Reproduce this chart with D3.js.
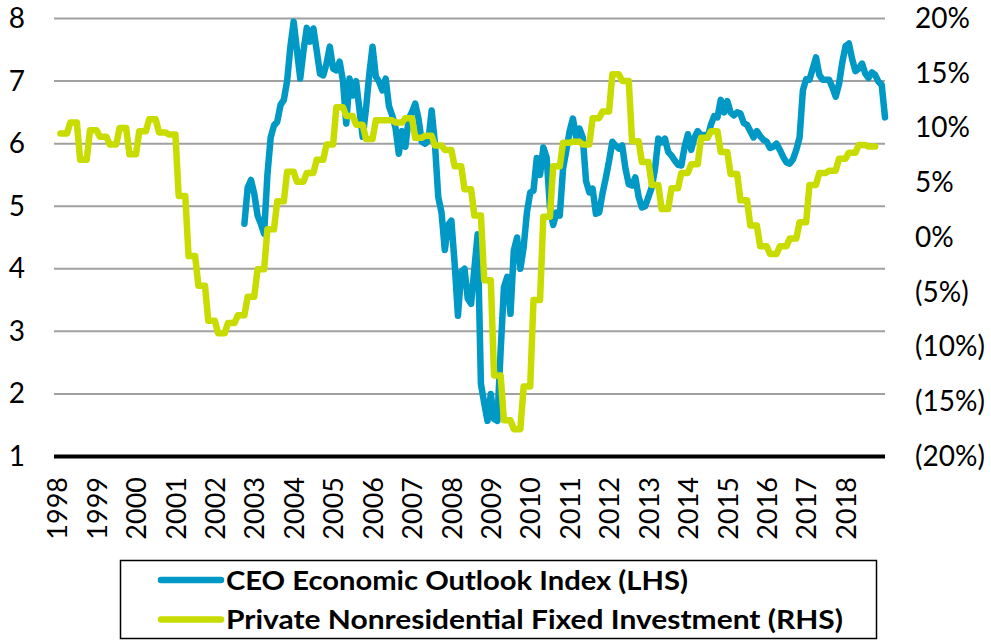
<!DOCTYPE html>
<html>
<head>
<meta charset="utf-8">
<script src="https://cdn.jsdelivr.net/npm/d3@7"></script>
<style>
  body { margin: 0; background: #fff; }
  text { font-family: Lato, "Open Sans", sans-serif; fill: #000; }
</style>
</head>
<body>
<svg id="chart" width="991" height="641"></svg>
<script>
// year labels along the bottom
const years = d3.range(1998, 2019);
const leftTicks = [1, 2, 3, 4, 5, 6, 7, 8];
const rightTicks = [20, 15, 10, 5, 0, -5, -10, -15, -20];

// CEO Economic Outlook Index, monthly from Oct 2002
const ceoStart = 2002 + 9 / 12;
const ceoIndex = [
  4.72, 5.3, 5.42, 5.2, 4.85, 4.72, 4.56, 5.5, 6.1, 6.29,
  6.35, 6.62, 6.7, 7.0, 7.55, 7.95, 7.49, 7.04, 7.49, 7.85,
  7.63, 7.84, 7.49, 7.12, 7.09, 7.28, 7.55, 7.2, 7.17, 7.31,
  7.0, 6.32, 7.04, 6.77, 7.0, 6.55, 6.11, 6.55, 7.1, 7.55,
  7.07, 6.99, 6.85, 7.04, 6.6, 6.45, 6.25, 5.84, 6.2, 5.95,
  6.4, 6.5, 6.64, 6.4, 6.03, 6.0, 6.05, 6.53, 6.0, 5.15,
  4.9, 4.3, 4.7, 4.77, 4.08, 3.25, 3.95, 4.0, 3.52, 3.44,
  4.0, 4.55, 2.16, 1.85, 1.57, 2.0, 1.6, 1.57, 2.69, 3.7,
  3.87, 3.28, 4.29, 4.5, 4.0, 4.34, 4.9, 5.22, 5.25, 5.77,
  5.5, 5.94, 5.78, 4.98, 4.7, 4.9, 4.85, 5.6, 5.89, 6.2,
  6.4, 6.1, 6.24, 6.1, 5.4, 5.22, 5.28, 4.88, 4.9, 5.2,
  5.45, 5.72, 6.03, 5.97, 5.92, 5.97, 5.6, 5.35, 5.33, 5.46,
  5.15, 4.98, 5.0, 5.15, 5.3, 5.6, 6.08, 6.02, 6.08, 5.87,
  5.81, 5.73, 5.66, 5.65, 5.95, 6.15, 5.9, 6.1, 6.2, 6.13,
  6.14, 6.1, 6.3, 6.44, 6.42, 6.7, 6.5, 6.68, 6.5, 6.45,
  6.5, 6.48, 6.33, 6.3, 6.2, 6.1, 6.2, 6.12, 6.06, 6.03,
  5.93, 5.95, 6.0, 5.9, 5.79, 5.7, 5.68, 5.75, 5.9, 6.1,
  6.85, 7.03, 7.02, 7.2, 7.38, 7.1, 7.02, 7.02, 7.02, 6.9,
  6.75, 6.95, 7.3, 7.56, 7.6, 7.35, 7.16, 7.2, 7.28, 7.12,
  7.05, 7.14, 7.1, 6.99, 6.94, 6.42
];

// Private nonresidential fixed investment, y/y %, quarterly from 1998 Q1
const investStart = 1998;
const investment = [
  9.5, 10.5, 7.1, 9.8,
  9.2, 8.5, 10.0, 7.6,
  9.7, 10.8, 9.6, 9.4,
  3.8, -1.7, -4.4, -7.6,
  -8.75, -7.8, -7.1, -5.4,
  -2.9, 0.75, 3.3, 6.0,
  5.1, 5.9, 7.1, 8.5,
  11.9, 11.1, 10.3, 9.0,
  10.7, 10.7, 10.5, 10.9,
  9.1, 9.3, 8.4, 8.0,
  6.5, 4.4, 2.0, -3.9,
  -12.6, -16.7, -17.5, -13.6,
  -5.7, 1.9, 6.5, 8.65,
  8.75, 8.5, 10.9, 11.5,
  14.9, 14.3, 8.8, 6.9,
  4.8, 2.6, 4.5, 5.9,
  6.7, 9.1, 9.7, 7.8,
  5.8, 3.4, 1.1, -0.8,
  -1.5, -0.8, -0.1, 1.4,
  4.8, 5.9, 6.1, 7.2,
  7.75, 8.45, 8.3
];

const seriesNames = [
  "CEO Economic Outlook Index (LHS)",
  "Private Nonresidential Fixed Investment (RHS)"
];
const colors = ["#0098c4", "#c8dc00"];
const legendWidths = [462, 617];

const svg = d3.select("#chart");

const x = d3.scaleLinear().domain([1997.92, 2019.0]).range([54, 885]);
const yLeft = d3.scaleLinear().domain([1, 8]).range([456.5, 18.5]);
const yRight = d3.scaleLinear().domain([-20, 20]).range([456.5, 18.5]);

// gridlines
svg.append("g")
  .selectAll("line")
  .data(leftTicks.filter(d => d > 1))
  .join("line")
  .attr("x1", x.range()[0])
  .attr("x2", x.range()[1])
  .attr("y1", d => yLeft(d))
  .attr("y2", d => yLeft(d))
  .attr("stroke", "#a0a0a0")
  .attr("stroke-width", 2);

// category axis line
svg.append("line")
  .attr("x1", x.range()[0])
  .attr("x2", x.range()[1])
  .attr("y1", yLeft(1))
  .attr("y2", yLeft(1))
  .attr("stroke", "#000")
  .attr("stroke-width", 4);

// left axis
const leftAxis = d3.axisLeft(yLeft).tickValues(leftTicks).tickFormat(d3.format("d"))
  .tickSize(0).tickPadding(0);
const gl = svg.append("g").attr("transform", "translate(25,0)").call(leftAxis);
gl.select(".domain").remove();
gl.selectAll("text").attr("font-size", 28).attr("font-family", "Lato, sans-serif");

// right axis
const fmtPct = d => d < 0 ? "(" + Math.abs(d) + "%)" : d + "%";
const rightAxis = d3.axisRight(yRight).tickValues(rightTicks).tickFormat(fmtPct)
  .tickSize(0).tickPadding(0);
const gr = svg.append("g").attr("transform", "translate(915,0)").call(rightAxis);
gr.select(".domain").remove();
gr.selectAll("text").attr("font-size", 28).attr("font-family", "Lato, sans-serif");

// year labels, rotated
svg.append("g")
  .selectAll("text")
  .data(years)
  .join("text")
  .attr("transform", d => `translate(${x(d) + 0.5},477) rotate(-90)`)
  .attr("text-anchor", "end")
  .attr("dy", "0.36em")
  .attr("font-size", 27)
  .text(d => d);

// lines
const ceoPoints = ceoIndex.map((v, i) => [ceoStart + i / 12, v]);
const investPoints = investment.flatMap((v, i) => {
  const t0 = investStart + (3 * i + 1) / 12;
  return [[t0, v], [t0 + 2 / 12, v]];
});

svg.append("path")
  .datum(ceoPoints)
  .attr("fill", "none")
  .attr("stroke", colors[0])
  .attr("stroke-width", 6.5)
  .attr("stroke-linejoin", "round")
  .attr("stroke-linecap", "round")
  .attr("d", d3.line().x(d => x(d[0])).y(d => yLeft(d[1])));

svg.append("path")
  .datum(investPoints)
  .attr("fill", "none")
  .attr("stroke", colors[1])
  .attr("stroke-width", 6.5)
  .attr("stroke-linejoin", "round")
  .attr("stroke-linecap", "round")
  .attr("d", d3.line().x(d => x(d[0])).y(d => yRight(d[1])));

// legend
const legend = svg.append("g");
legend.append("rect")
  .attr("x", 120.5).attr("y", 560.5)
  .attr("width", 756).attr("height", 78)
  .attr("fill", "#fff")
  .attr("stroke", "#000")
  .attr("stroke-width", 1.5);

const items = legend.selectAll("g.item")
  .data(seriesNames)
  .join("g")
  .attr("class", "item")
  .attr("transform", (d, i) => `translate(0,${580 + i * 39.5})`);

items.append("line")
  .attr("x1", 161).attr("x2", 221)
  .attr("stroke", (d, i) => colors[i])
  .attr("stroke-width", 6.5)
  .attr("stroke-linecap", "round");

items.append("text")
  .attr("x", 226)
  .attr("dy", "0.36em")
  .attr("font-size", 27)
  .attr("font-weight", "bold")
  .attr("textLength", (d, i) => legendWidths[i])
  .attr("lengthAdjust", "spacingAndGlyphs")
  .text(d => d);
</script>
</body>
</html>
